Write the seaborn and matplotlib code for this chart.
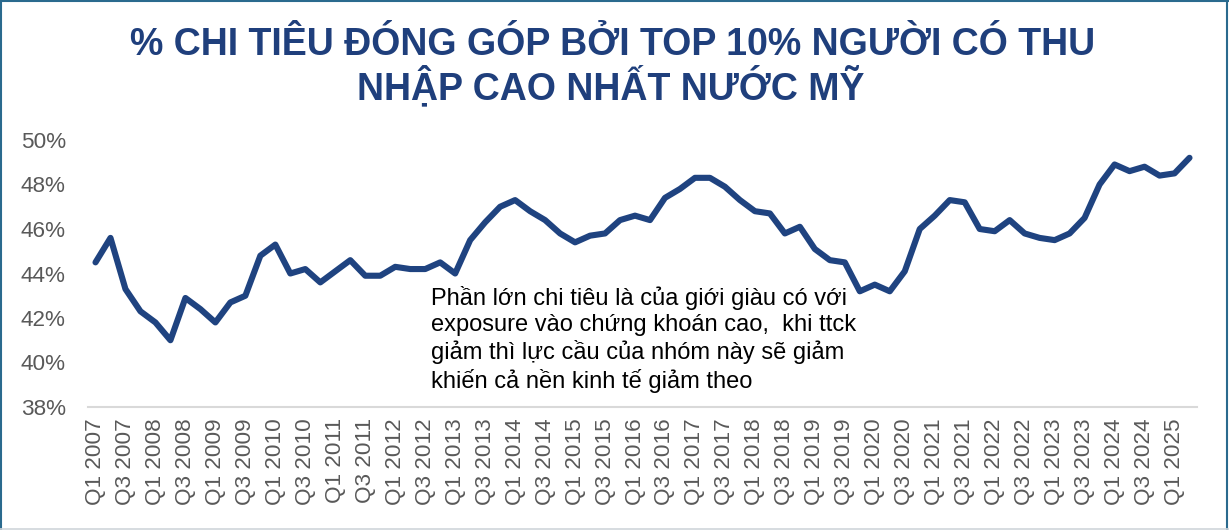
import matplotlib
matplotlib.use("Agg")
import matplotlib.pyplot as plt
import seaborn as sns
import pandas as pd
from matplotlib.lines import Line2D

# ---- data ----
years = list(range(2007, 2026))
quarters = [f"Q{q} {y}" for y in years for q in (1, 2, 3, 4)][:74]
share_pct = [44.5, 45.6, 43.3, 42.3, 41.8, 41.0, 42.9, 42.4, 41.8, 42.7,
             43.0, 44.8, 45.3, 44.0, 44.2, 43.6, 44.1, 44.6, 43.9, 43.9,
             44.3, 44.2, 44.2, 44.5, 44.0, 45.5, 46.3, 47.0, 47.3, 46.8,
             46.4, 45.8, 45.4, 45.7, 45.8, 46.4, 46.6, 46.4, 47.4, 47.8,
             48.3, 48.3, 47.9, 47.3, 46.8, 46.7, 45.8, 46.1, 45.1, 44.6,
             44.5, 43.2, 43.5, 43.2, 44.1, 46.0, 46.6, 47.3, 47.2, 46.0,
             45.9, 46.4, 45.8, 45.6, 45.5, 45.8, 46.5, 48.0, 48.9, 48.6,
             48.8, 48.4, 48.5, 49.2]
y_ticks = [38, 40, 42, 44, 46, 48, 50]
title_lines = ["% CHI TIÊU ĐÓNG GÓP BỞI TOP 10% NGƯỜI CÓ THU",
               "NHẬP CAO NHẤT NƯỚC MỸ"]
note = ("Phần lớn chi tiêu là của giới giàu có với\n"
        "exposure vào chứng khoán cao,  khi ttck\n"
        "giảm thì lực cầu của nhóm này sẽ giảm\n"
        "khiến cả nền kinh tế giảm theo")

# ---- style ----
NAVY = "#1F4380"
TITLE_C = "#1F3F7C"
GRAY = "#595959"
W, H = 1229, 530

sns.set_theme(style="white")
plt.rcParams['font.family'] = ['Liberation Sans', 'DejaVu Sans']

fig = plt.figure(figsize=(W / 100, H / 100), dpi=100)
fig.patch.set_facecolor("white")
ax = fig.add_axes([88 / W, 1 - 407 / H, (1197 - 88) / W, (407 - 140) / H])

df = pd.DataFrame({"idx": range(len(quarters)), "quarter": quarters, "pct": share_pct})
sns.lineplot(data=df, x="idx", y="pct", ax=ax, color=NAVY, linewidth=4.4,
             solid_capstyle="round", solid_joinstyle="round")

ax.set_xlim(-0.5, len(quarters) - 0.5)
ax.set_ylim(y_ticks[0], y_ticks[-1])
ax.set_xticks(df["idx"][::2])
ax.set_xticklabels(quarters[::2], rotation=90)
ax.set_yticks(y_ticks)
ax.set_yticklabels([f"{v}%" for v in y_ticks])
ax.set_xlabel("")
ax.set_ylabel("")
for s in ("left", "right", "top"):
    ax.spines[s].set_visible(False)
ax.spines["bottom"].set_color("#d9d9d9")
ax.spines["bottom"].set_linewidth(1.5)
ax.tick_params(axis="both", length=0, labelsize=16.2, colors=GRAY)
ax.tick_params(axis="y", pad=16)
ax.tick_params(axis="x", pad=8)
ax.grid(False)

# title
fig.text(613 / W, 1 - 55 / H, title_lines[0], ha="center", va="baseline",
         fontsize=27, fontweight="bold", color=TITLE_C)
fig.text(611 / W, 1 - 99.5 / H, title_lines[1], ha="center", va="baseline",
         fontsize=27, fontweight="bold", color=TITLE_C)

# annotation
fig.text(431 / W, 1 - 286 / H, note, ha="left", va="top", fontsize=17,
         color="black", linespacing=1.23)

# frame
BORDER = "#2A6A8E"
fig.add_artist(Line2D([0, 1], [1 - 0.7 / H] * 2, transform=fig.transFigure, color=BORDER, lw=1.5))
fig.add_artist(Line2D([1.2 / W] * 2, [0, 1], transform=fig.transFigure, color=BORDER, lw=1.5))
fig.add_artist(Line2D([1 - 2.5 / W] * 2, [0, 1], transform=fig.transFigure, color=BORDER, lw=1.5))
fig.add_artist(Line2D([0, 1], [1.5 / H] * 2, transform=fig.transFigure, color="#d0d5da", lw=1.2))

fig.savefig("out.png", dpi=100, facecolor="white")
